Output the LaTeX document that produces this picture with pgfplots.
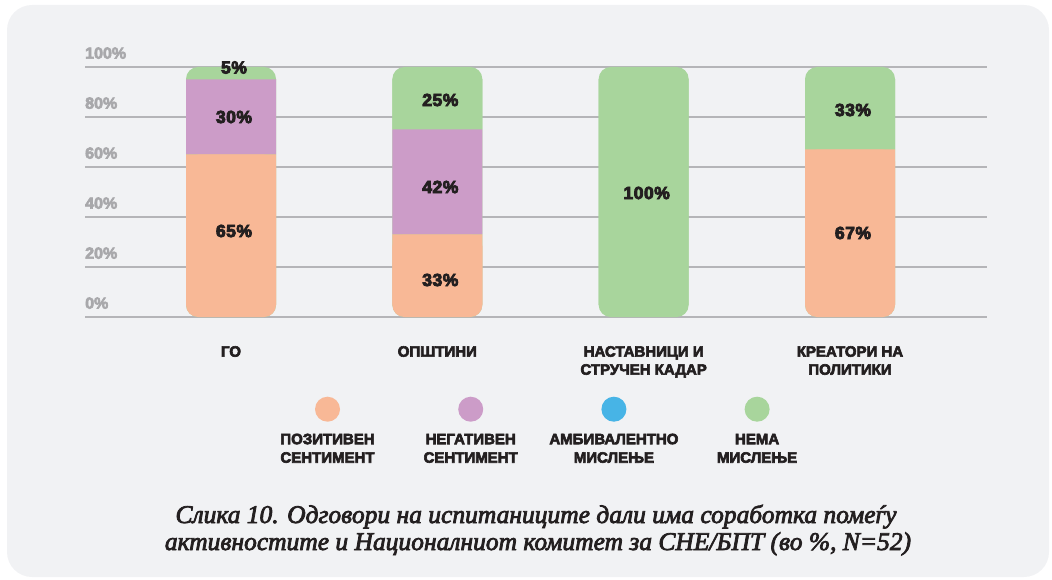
\documentclass[border=0pt]{standalone}
\usepackage{pgfplots}
\pgfplotsset{compat=1.18}
\usepackage{fontspec}
\setmainfont{Liberation Sans}
\newfontfamily\blk{Liberation Sans}[UprightFont={* Bold}, FakeBold=4]
\newfontfamily\blkv{Liberation Sans}[UprightFont={* Bold}, FakeBold=5, LetterSpace=3]
\newfontfamily\capfont{Liberation Serif}[UprightFont={* Italic}, FakeBold=3]
\definecolor{panel}{HTML}{F1F2F4}
\definecolor{gridc}{HTML}{B5B5B8}
\definecolor{tickc}{HTML}{A8A8AB}
\definecolor{orng}{HTML}{F8B896}
\definecolor{purp}{HTML}{CC9CC8}
\definecolor{blu}{HTML}{47B4E6}
\definecolor{grn}{HTML}{A8D59C}
\definecolor{dk}{HTML}{231F20}
\definecolor{capc}{HTML}{231F20}
\pgfplotsset{
  base/.style={scale only axis, width=902pt, height=250pt,
    xmin=-0.7077, xmax=3.664, ymin=0, ymax=100, enlargelimits=false},
}
\newcommand\lgd[3]{\tikz\fill[#1](0,0)circle(12.5pt);\\[4pt]#2\\#3}
\begin{document}
\begin{tikzpicture}[x=1pt,y=1pt]
\useasboundingbox (0,0) rectangle (1052,-580);
\fill[panel, rounded corners=25pt] (7,-5) rectangle (1049,-577);
% layer 1: grid, y labels, rounded full bars and rounded bottom segments
\begin{axis}[base, at={(85pt,-317pt)}, anchor=south west,
  axis line style={draw=none}, tick style={draw=none},
  xtick=\empty, ytick={0,20,40,60,80,100},
  yticklabels={0\%,20\%,40\%,60\%,80\%,100\%},
  yticklabel style={anchor=south west, inner sep=0pt, xshift=0pt, yshift=8pt,
    font=\blk\fontsize{16}{18}\selectfont, text=tickc},
  ymajorgrids, grid style={gridc, line width=1.6pt}]
\addplot[ybar, bar width=90pt, bar shift=0pt, fill=grn, draw=none, rounded corners=12pt]
  coordinates {(0,100)(1,100)(2,100)(3,100)};
\addplot[ybar, bar width=90pt, bar shift=0pt, fill=orng, draw=none, rounded corners=12pt]
  coordinates {(0,65)(1,33)(3,67)};
\end{axis}
% layer 2: square stacked segments, clipped to the band between the rounded ends
\begin{axis}[base, at={(85pt,-304.5pt)}, anchor=south west, height=225pt,
  ymin=5, ymax=95, hide axis, ybar stacked, bar width=90pt]
\addplot[fill=orng, draw=none] coordinates {(0,65)(1,33)(2,0)(3,67)};
\addplot[fill=purp, draw=none] coordinates {(0,30)(1,42)(2,0)(3,0)};
\addplot[fill=grn, draw=none] coordinates {(0,5)(1,25)(2,100)(3,33)};
\end{axis}
% layer 3: value labels, categories, legend
\begin{axis}[base, at={(85pt,-317pt)}, anchor=south west, clip=false,
  axis line style={draw=none}, tick style={draw=none}, ytick=\empty,
  xtick={0,1,2,3},
  xticklabels={ГО,ОПШТИНИ,{НАСТАВНИЦИ И\\СТРУЧЕН КАДАР},{КРЕАТОРИ НА\\ПОЛИТИКИ}},
  xticklabel style={anchor=north, align=center, inner sep=0pt, yshift=-29pt,
    font=\blk\fontsize{15}{18}\selectfont, text=dk},
  legend columns=4,
  legend style={at={(0.507,-0.318)}, anchor=north, draw=none, fill=none,
    inner sep=0pt, column sep=0pt,
    nodes={align=center, text width=143.2pt, inner sep=0pt,
      font=\blk\fontsize{15}{18.5}\selectfont, text=dk}},
  ]
\addplot[forget plot, draw=none, mark=none, nodes near coords, point meta=explicit symbolic,
  nodes near coords style={anchor=center, xshift=3pt, text=dk,
    font=\blkv\fontsize{17.5}{20}\selectfont}]
  coordinates {(0,34.4)[65\%] (0,80)[30\%] (0,99.8)[5\%]
               (1,14.8)[33\%] (1,52)[42\%] (1,86.8)[25\%]
               (2,49.6)[100\%]
               (3,33.6)[67\%] (3,82.8)[33\%]};
\addlegendimage{empty legend}
\addlegendentry{\lgd{orng}{ПОЗИТИВЕН}{СЕНТИМЕНТ}}
\addlegendimage{empty legend}
\addlegendentry{\lgd{purp}{НЕГАТИВЕН}{СЕНТИМЕНТ}}
\addlegendimage{empty legend}
\addlegendentry{\lgd{blu}{АМБИВАЛЕНТНО}{МИСЛЕЊЕ}}
\addlegendimage{empty legend}
\addlegendentry{\lgd{grn}{НЕМА}{МИСЛЕЊЕ}}
\end{axis}
\node[font=\capfont\fontsize{25.5}{27}\selectfont, text=capc, anchor=base, inner sep=0pt] at (536,-523)
  {Слика 10. Одговори на испитаниците дали има соработка помеѓу};
\node[font=\capfont\fontsize{25.5}{27}\selectfont, text=capc, anchor=base, inner sep=0pt] at (538,-550)
  {активностите и Националниот комитет за СНЕ/БПТ (во \%, N=52)};
\end{tikzpicture}
\end{document}
